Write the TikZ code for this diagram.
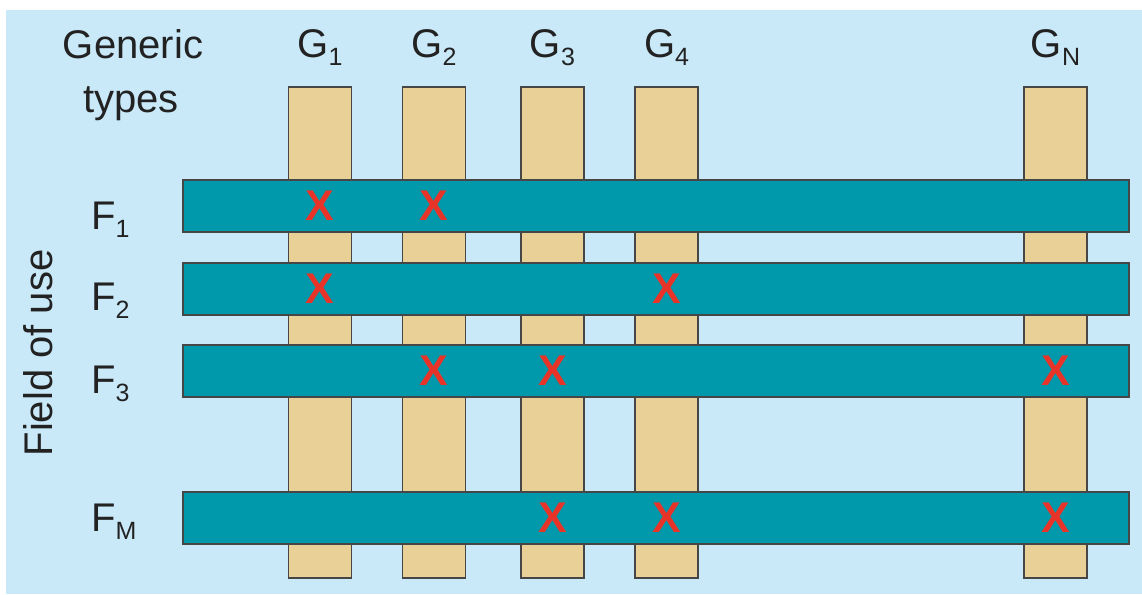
\documentclass[tikz,border=0pt]{standalone}
\usepackage{fontspec}
\setmainfont{Liberation Sans}
\definecolor{bgblue}{RGB}{201,233,248}
\definecolor{tan}{RGB}{233,208,150}
\definecolor{teal}{RGB}{0,153,171}
\definecolor{edge}{RGB}{70,70,70}
\definecolor{ink}{RGB}{34,34,34}
\definecolor{mark}{RGB}{232,52,40}
\newcommand{\sublbl}[2]{#1\raisebox{-8pt}{\fontsize{25}{25}\selectfont #2}}
\tikzset{
  column/.style={draw=edge, line width=1.5pt, fill=tan, minimum width=63pt, minimum height=491pt, inner sep=0pt},
  field/.style={draw=edge, line width=1.5pt, fill=teal, minimum width=946pt, minimum height=52pt, inner sep=0pt},
  label/.style={text=ink, font=\fontsize{40}{40}\selectfont, inner sep=0pt},
  cross/.style={text=mark, font=\bfseries\fontsize{43}{43}\selectfont, inner sep=0pt}
}
\begin{document}
\begin{tikzpicture}[x=1pt, y=-1pt]
\useasboundingbox (0,0) rectangle (1142,594);
\fill[white] (0,0) rectangle (1142,594);
\fill[bgblue] (6,10) rectangle (1142,594);

% generic types (columns)
\node[column] (g1) at (320,332.5) {};
\node[column] (g2) at (434,332.5) {};
\node[column] (g3) at (552.5,332.5) {};
\node[column] (g4) at (666.5,332.5) {};
\node[column] (gn) at (1055.5,332.5) {};

% fields of use (rows)
\node[field] (f1) at (656,206) {};
\node[field] (f2) at (656,289) {};
\node[field] (f3) at (656,371) {};
\node[field] (fm) at (656,518) {};

% headings
\node[label, anchor=base] (gen) at (133,59) {Generic};
\node[label, anchor=base] (typ) at (131,112) {types};
\node[label, anchor=base, rotate=90] (fou) at (52,353) {Field of use};

\node[label, anchor=base] (lg1) at (320,58) {\sublbl{G}{1}};
\node[label, anchor=base] (lg2) at (434,58) {\sublbl{G}{2}};
\node[label, anchor=base] (lg3) at (552.5,58) {\sublbl{G}{3}};
\node[label, anchor=base] (lg4) at (666.5,58) {\sublbl{G}{4}};
\node[label, anchor=base] (lgn) at (1055.5,58) {\sublbl{G}{N}};

\node[label, anchor=base west] (lf1) at (91,229) {\sublbl{F}{1}};
\node[label, anchor=base west] (lf2) at (91,310) {\sublbl{F}{2}};
\node[label, anchor=base west] (lf3) at (91,393) {\sublbl{F}{3}};
\node[label, anchor=base west] (lfm) at (91,531) {\sublbl{F}{M}};

% crosses marking which generic type serves which field
\node[cross] (x11) at (g1 |- f1) {X};
\node[cross] (x12) at (g2 |- f1) {X};
\node[cross] (x21) at (g1 |- f2) {X};
\node[cross] (x24) at (g4 |- f2) {X};
\node[cross] (x32) at (g2 |- f3) {X};
\node[cross] (x33) at (g3 |- f3) {X};
\node[cross] (x3n) at (gn |- f3) {X};
\node[cross] (xm3) at (g3 |- fm) {X};
\node[cross] (xm4) at (g4 |- fm) {X};
\node[cross] (xmn) at (gn |- fm) {X};
\end{tikzpicture}
\end{document}
